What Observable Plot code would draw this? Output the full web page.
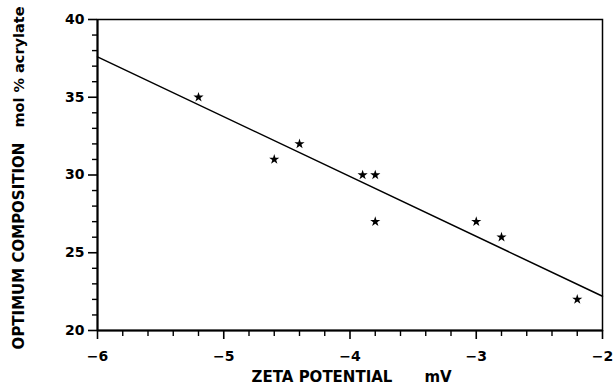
<!DOCTYPE html>
<html><head><meta charset="utf-8">
<script src="https://cdn.jsdelivr.net/npm/d3@7"></script>
<script src="https://cdn.jsdelivr.net/npm/@observablehq/plot@0.6"></script>
<style>
body{margin:0;background:#fff}
svg{display:block}
</style>
</head><body><div id="chart"></div>
<script>
// Measured points
const zeta = [-5.2, -4.6, -4.4, -3.9, -3.8, -3.8, -3.0, -2.8, -2.2];
const composition = [35, 31, 32, 30, 30, 27, 27, 26, 22];
// Fitted line end points
const fitX = [-6, -2];
const fitY = [37.6, 22.2];
// Axis ticks
const xTicks = [-6, -5, -4, -3, -2];
const yTicks = [20, 25, 30, 35, 40];
const xMinor = [-5.8,-5.6,-5.4,-5.2,-4.8,-4.6,-4.4,-4.2,-3.8,-3.6,-3.4,-3.2,-2.8,-2.6,-2.4,-2.2];
const yMinor = [21,22,23,24,26,27,28,29,31,32,33,34,36,37,38,39];
// Axis titles
const xTitle = "ZETA POTENTIAL";
const xUnit = "mV";
const yTitle = "OPTIMUM COMPOSITION";
const yUnit = "mol % acrylate";

const points = zeta.map((z, i) => ({z, c: composition[i]}));
const fit = fitX.map((x, i) => ({x, y: fitY[i]}));

const fmt = d => (d < 0 ? "\u2212" : "") + Math.abs(d);
const lab = {fontSize: 15, fontWeight: "bold", textAnchor: "middle", lineAnchor: "middle"};

const chart = Plot.plot({
  width: 614,
  height: 388,
  marginLeft: 97,
  marginRight: 12,
  marginTop: 19,
  marginBottom: 58,
  style: {fontFamily: "DejaVu Sans", background: "#fff", color: "#000"},
  x: {domain: [-6, -2]},
  y: {domain: [20, 40]},
  marks: [
    Plot.frame({stroke: "#000", strokeWidth: 1.5}),
    Plot.ruleY([20], {stroke: "#000", strokeWidth: 2}),
    Plot.ruleX([-6], {stroke: "#000", strokeWidth: 2}),
    Plot.axisX(xMinor, {tickSize: 6, text: null, strokeWidth: 1.4}),
    Plot.axisX(xTicks, {tickSize: 9, tickPadding: 12, strokeWidth: 1.6, tickFormat: fmt, fontSize: 14, fontWeight: "bold", label: null}),
    Plot.axisY(yMinor, {tickSize: 5, text: null, strokeWidth: 1.4}),
    Plot.axisY(yTicks, {tickSize: 9, tickPadding: 4, strokeWidth: 1.6, fontSize: 14, fontWeight: "bold", label: null}),
    Plot.line(fit, {x: "x", y: "y", stroke: "#000", strokeWidth: 1.5}),
    Plot.dot(points, {x: "z", y: "c", symbol: "star", fill: "#000", stroke: "none", r: 3.2}),
    Plot.text([xTitle], {...lab, frameAnchor: "bottom", dx: -28, dy: 47}),
    Plot.text([xUnit], {...lab, frameAnchor: "bottom", dx: 88, dy: 47}),
    Plot.text([yTitle], {...lab, frameAnchor: "left", dx: -78, dy: 71, rotate: -90}),
    Plot.text([yUnit], {...lab, fontSize: 14.5, frameAnchor: "left", dx: -78, dy: -108, rotate: -90})
  ]
});
document.getElementById("chart").append(chart);
</script>
</body></html>
